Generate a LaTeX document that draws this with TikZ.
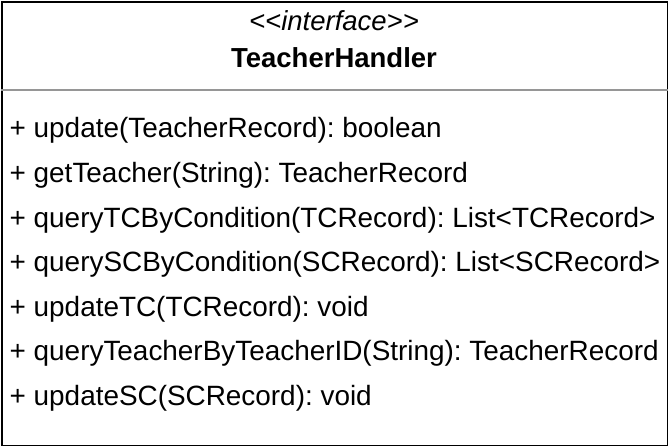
\documentclass[tikz,border=0pt]{standalone}
\usepackage{fontspec}
\setmainfont{Liberation Sans}
\usepackage{xcolor}
\usetikzlibrary{positioning}
\definecolor{sepgray}{RGB}{150,150,150}
\frenchspacing

\begin{document}
\begin{tikzpicture}[x=1pt, y=-1pt,
  every node/.style={font=\fontsize{27.5}{33}\selectfont, inner sep=0pt},
  method/.style={anchor=base west, font=\fontsize{27.9}{33}\selectfont}]
  \useasboundingbox (0,0) rectangle (668,446);
  \node[draw, line width=2pt, minimum width=666pt, minimum height=444pt, anchor=north west] (box) at (1,1) {};
  \draw[sepgray, line width=1.5pt] (box.west |- 0,90) coordinate (sepl) -- (box.east |- 0,90) coordinate (sepr);
  \node[anchor=base, font=\fontsize{27.5}{33}\selectfont\itshape] (stereo) at (334,31) {{<}{<}interface{>}{>}};
  \node[anchor=base, font=\fontsize{27.5}{33}\selectfont\bfseries] (name) at (334,68) {TeacherHandler};
  \node[method] (m1) at (9.5,138) {+ update(TeacherRecord): boolean};
  \node[method] (m2) at (9.5,182.5) {+ getTeacher(String): TeacherRecord};
  \node[method] (m3) at (9.5,227) {+ queryTCByCondition(TCRecord): List<TCRecord>};
  \node[method] (m4) at (9.5,271.5) {+ querySCByCondition(SCRecord): List<SCRecord>};
  \node[method] (m5) at (9.5,316) {+ updateTC(TCRecord): void};
  \node[method] (m6) at (9.5,360.5) {+ queryTeacherByTeacherID(String): TeacherRecord};
  \node[method] (m7) at (9.5,405) {+ updateSC(SCRecord): void};
\end{tikzpicture}
\end{document}
